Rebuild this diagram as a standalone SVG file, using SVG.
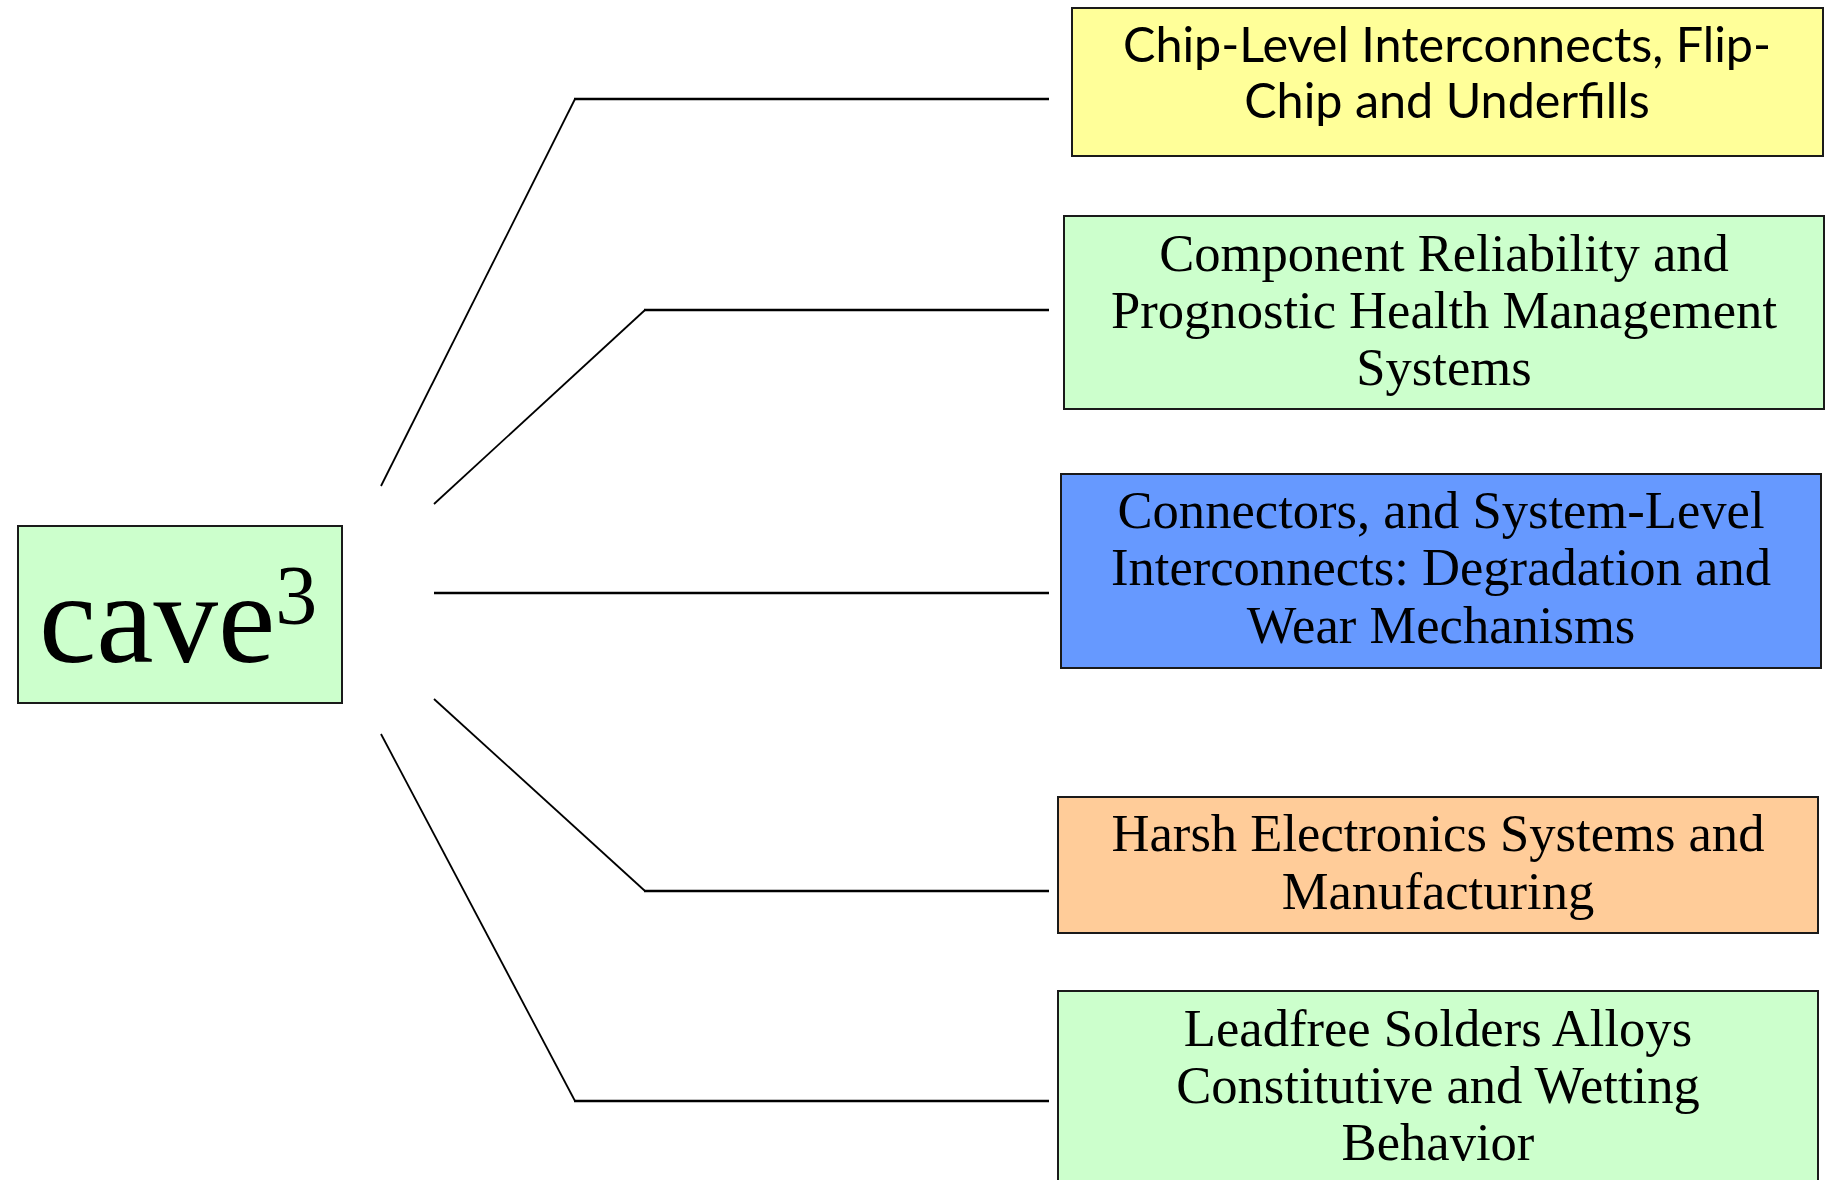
<svg xmlns="http://www.w3.org/2000/svg" width="1829" height="1180" viewBox="0 0 1829 1180">
<style>
.box{stroke:#1a1a1a;stroke-width:2}
.serif{font-family:"Liberation Serif","Times New Roman",serif;font-size:52.6px;fill:#000;text-anchor:middle}
.sans{font-family:Lato,"Liberation Sans",sans-serif;font-size:48.5px;fill:#000;text-anchor:middle}
.h{stroke:#000;stroke-width:2.6;fill:none}
.d{stroke:#000;stroke-width:1.8;fill:none}
</style>
<rect width="1829" height="1180" fill="#fff"/>
<g id="connectors">
<line class="d" x1="381" y1="486" x2="575" y2="99"/>
<line class="h" x1="574" y1="99" x2="1049" y2="99"/>
<line class="d" x1="434" y1="504" x2="645" y2="310"/>
<line class="h" x1="644" y1="310" x2="1049" y2="310"/>
<line class="h" x1="434" y1="593" x2="1049" y2="593"/>
<line class="d" x1="434" y1="699" x2="645" y2="891"/>
<line class="h" x1="644" y1="891" x2="1049" y2="891"/>
<line class="d" x1="381" y1="734" x2="575" y2="1101"/>
<line class="h" x1="574" y1="1101" x2="1049" y2="1101"/>
</g>
<g id="cave">
<rect class="box" x="18" y="526" width="324" height="177" fill="#CCFFCC"/>
<text x="39" y="662" font-family="'Liberation Serif','Times New Roman',serif" font-size="129" fill="#000">cave<tspan font-size="84" dy="-38" dx="0">3</tspan></text>
</g>
<g id="chip">
<rect class="box" x="1072" y="8" width="751" height="148" fill="#FFFF99"/>
<text class="sans" x="1447" y="62">Chip-Level Interconnects, Flip-</text>
<text class="sans" x="1447" y="118">Chip and Underfills</text>
</g>
<g id="component">
<rect class="box" x="1064" y="216" width="760" height="193" fill="#CCFFCC"/>
<text class="serif" x="1444" y="271">Component Reliability and</text>
<text class="serif" x="1444" y="328">Prognostic Health Management</text>
<text class="serif" x="1444" y="385">Systems</text>
</g>
<g id="connectors-node">
<rect class="box" x="1061" y="474" width="760" height="194" fill="#6699FF"/>
<text class="serif" x="1441" y="528">Connectors, and System-Level</text>
<text class="serif" x="1441" y="585">Interconnects: Degradation and</text>
<text class="serif" x="1441" y="643">Wear Mechanisms</text>
</g>
<g id="harsh">
<rect class="box" x="1058" y="797" width="760" height="136" fill="#FFCC99"/>
<text class="serif" x="1438" y="851">Harsh Electronics Systems and</text>
<text class="serif" x="1438" y="909">Manufacturing</text>
</g>
<g id="leadfree">
<rect class="box" x="1058" y="991" width="760" height="200" fill="#CCFFCC"/>
<text class="serif" x="1438" y="1046">Leadfree Solders Alloys</text>
<text class="serif" x="1438" y="1103">Constitutive and Wetting</text>
<text class="serif" x="1438" y="1160">Behavior</text>
</g>
</svg>
